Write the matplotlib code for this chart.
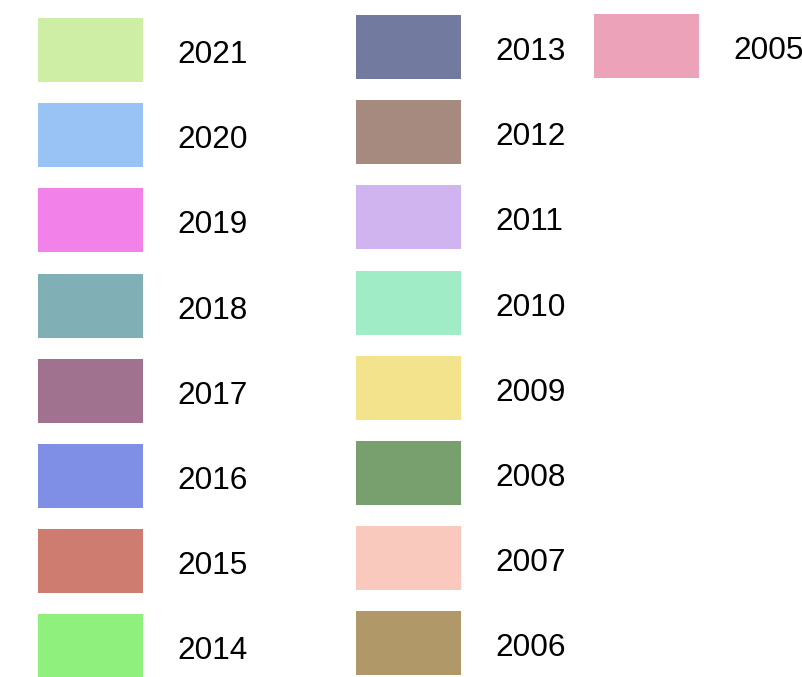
import matplotlib
matplotlib.use('Agg')
import matplotlib.pyplot as plt

# legende seule : annees et couleurs
years = ['2021', '2020', '2019', '2018', '2017', '2016', '2015', '2014',
         '2013', '2012', '2011', '2010', '2009', '2008', '2007', '2006',
         '2005']
colors = ['#cdeea4', '#99c3f4', '#f281ea', '#80afb5', '#a07290', '#7f8fe6',
          '#cd7c6f', '#90f07e', '#737aa0', '#a68a7f', '#d0b4f0', '#a0ecc6',
          '#f2e38c', '#77a06e', '#f8c9bc', '#b09868', '#eca2b8']

# mise en page (pixels)
col_left = [38, 356, 594]
col_top = [18, 15, 14]
text_dx = 140
row_step = 85.2
box_w, box_h = 105, 64
per_col = 8

fig = plt.figure(figsize=(8.02, 6.77), dpi=100)
ax = fig.add_axes([0, 0, 1, 1])
ax.set_xlim(0, 802)
ax.set_ylim(677, 0)
ax.axis('off')

for i, (yr, c) in enumerate(zip(years, colors)):
    col = i // per_col
    row = i % per_col
    top = col_top[col] + row * row_step
    ax.bar(col_left[col], box_h, width=box_w, bottom=top, align='edge',
           color=c, edgecolor='none')
    ax.text(col_left[col] + text_dx - 1, top + box_h / 2 + 5, yr,
            fontsize=22.7, family='Liberation Sans', va='center', ha='left')

fig.savefig('out.png', dpi=100)
